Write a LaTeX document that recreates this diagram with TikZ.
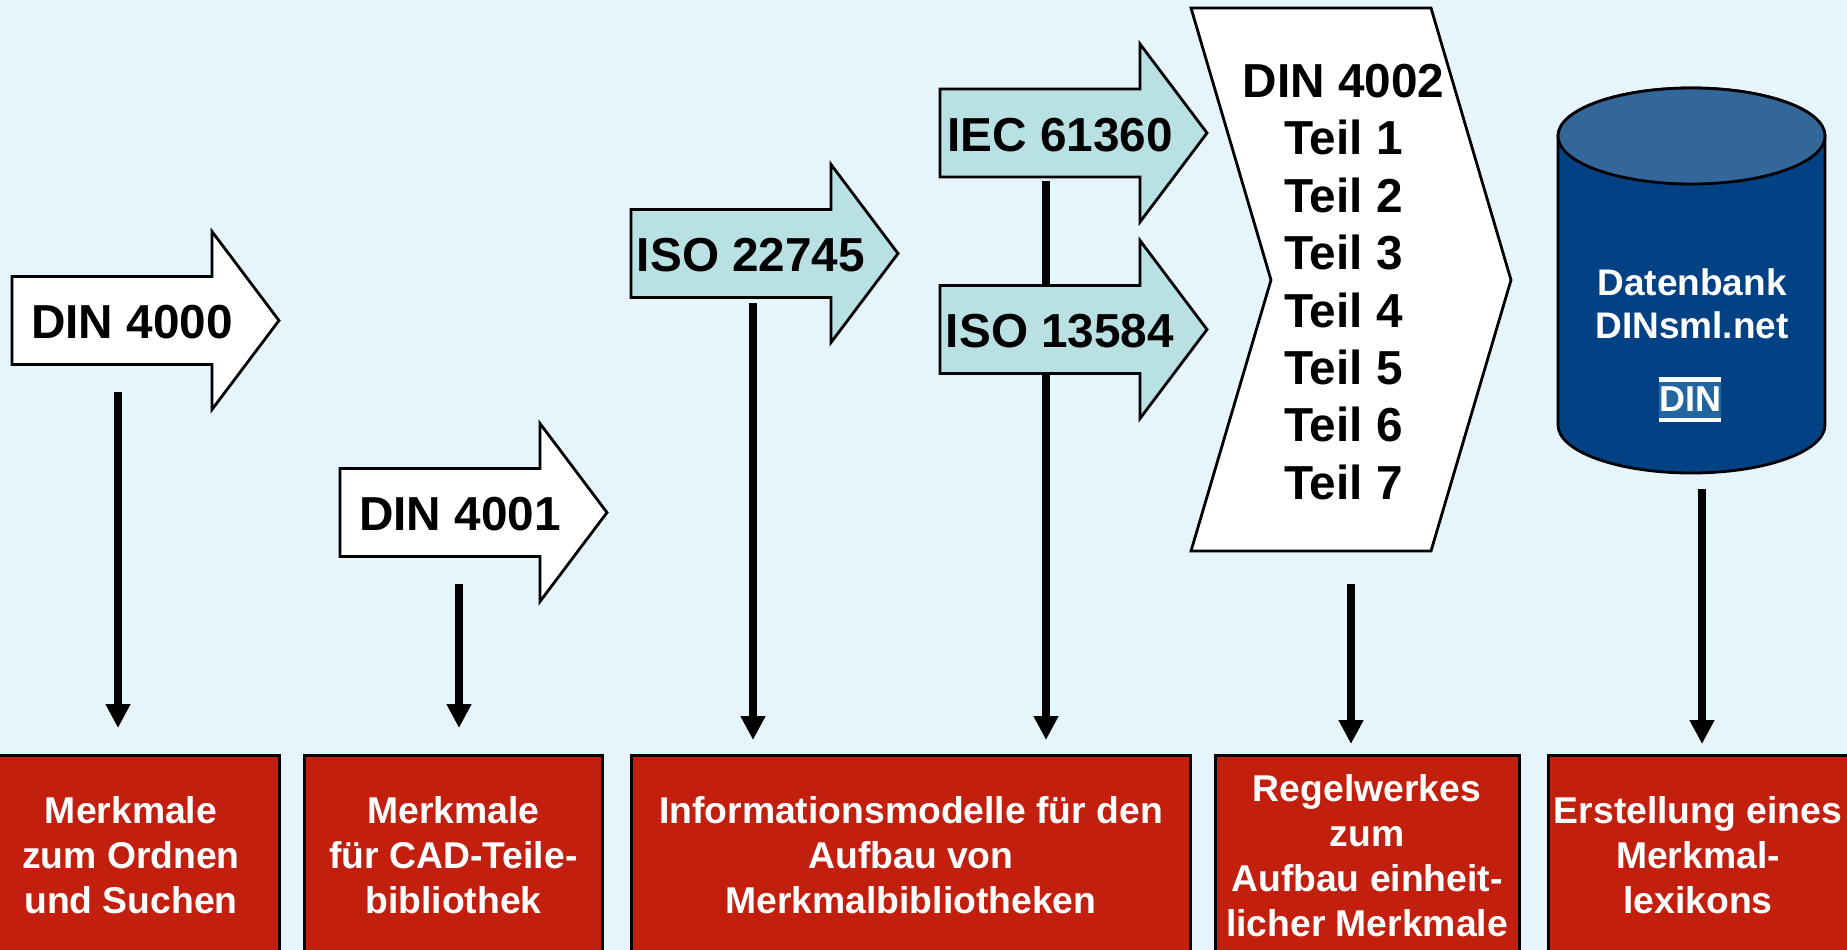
\documentclass[tikz,border=0pt]{standalone}
\usepackage{fontspec}
\setmainfont{Liberation Sans}
\usetikzlibrary{arrows.meta}
\definecolor{bgblue}{HTML}{E6F4FB}
\definecolor{teal}{HTML}{B9E0E3}
\definecolor{boxred}{HTML}{C21F0E}
\definecolor{dbblue}{HTML}{034185}
\definecolor{dbtop}{HTML}{336699}
\definecolor{logoblue}{HTML}{2266A0}
\tikzset{
  pfeil/.style={draw=black,line width=2.8pt,line join=miter},
  normtext/.style={font=\bfseries\fontsize{47.7}{57.4}\selectfont,align=center,inner sep=0pt},
  zielbox/.style={draw=black,line width=3pt,fill=boxred,text=white,minimum height=200pt,inner sep=0pt,
    font=\bfseries\fontsize{37.3}{44.8}\selectfont,align=center},
  fluss/.style={line width=8pt,-{Triangle[width=23.5pt,length=24pt]}},
}
\begin{document}
\begin{tikzpicture}[x=1pt,y=-1pt]
\useasboundingbox (0,0) rectangle (1847,950);
\clip (0,0) rectangle (1847,950);
\fill[bgblue] (0,0) rectangle (1847,950);
% Ziele unten
\node[zielbox,minimum width=296pt] (ziel1) at (131,855) {Merkmale\\zum Ordnen\\und Suchen};
\node[zielbox,minimum width=298pt] (ziel2) at (453.5,855) {Merkmale\\für CAD-Teile-\\bibliothek};
\node[zielbox,minimum width=559pt] (ziel3) at (911,855) {Informationsmodelle für den\\Aufbau von\\Merkmalbibliotheken};
\node[zielbox,minimum width=304pt] (ziel4) at (1367,855.5) {Regelwerkes\\zum\\Aufbau einheit-\\licher Merkmale};
\node[zielbox,minimum width=300pt] (ziel5) at (1698,855) {Erstellung eines\\Merkmal-\\lexikons};
% Freie Enden
\coordinate (iecaus) at (1046,181);
\coordinate (iecein) at (1046,740);
\draw[fluss] (iecaus) -- (iecein);
% Pfeile
\foreach \n/\x/\y/\f/\t in {din4000/12/320.5/white/DIN 4000,din4001/340/512.5/white/DIN 4001,
    iso22745/631/253.5/teal/ISO 22745,iec61360/940/133/teal/IEC 61360,iso13584/940/329.5/teal/ISO 13584}{
  \draw[pfeil,fill=\f] (\x,\y) ++(0,-44) -- ++(200,0) -- ++(0,-45) -- ++(67,89) -- ++(-67,89)
    -- ++(0,-45) -- ++(-200,0) -- cycle;
  \node[normtext] (\n) at (\x+120,\y+2) {\t};
}
% DIN 4002
\draw[pfeil,fill=white] (1191,8) -- (1431,8) -- (1511,280) -- (1431,551) -- (1191,551) -- (1271,280) -- cycle;
\node[normtext] (din4002) at (1343.5,282) {DIN 4002\\Teil 1\\Teil 2\\Teil 3\\Teil 4\\Teil 5\\Teil 6\\Teil 7};
% Datenbank
\draw[pfeil,fill=dbblue] (1558,136) -- (1558,425) arc[start angle=180,end angle=360,x radius=133.5,y radius=-48]
  -- (1825,136) arc[start angle=0,end angle=180,x radius=133.5,y radius=-48] -- cycle;
\draw[pfeil,fill=dbtop] (1691.5,136) ellipse [x radius=133.5,y radius=48];
\node[normtext,font=\bfseries\fontsize{37}{43.5}\selectfont,text=white] (datenbank) at (1692,304) {Datenbank\\DINsml.net};
\fill[logoblue] (1659,377) rectangle (1721,422);
\fill[white] (1659,377) rectangle (1721,381.5);
\fill[white] (1659,417.5) rectangle (1721,422);
\node[inner sep=0pt,text=white,font=\bfseries\fontsize{36}{36}\selectfont] (dinlogo) at (1690,399.5) {DIN};
% Verbindungen
\coordinate (din4000aus) at (118,392);
\coordinate (din4000ein) at (118,728);
\coordinate (din4001aus) at (459,584);
\coordinate (din4001ein) at (459,728);
\coordinate (iso22745aus) at (753,303);
\coordinate (iso22745ein) at (753,740);
\coordinate (din4002aus) at (1351,584);
\coordinate (din4002ein) at (1351,744);
\coordinate (datenbankaus) at (1702,489);
\coordinate (datenbankein) at (1702,744);
\foreach \n in {din4000,din4001,iso22745,din4002,datenbank}
\draw[fluss] (\n aus) -- (\n ein);
\end{tikzpicture}
\end{document}
